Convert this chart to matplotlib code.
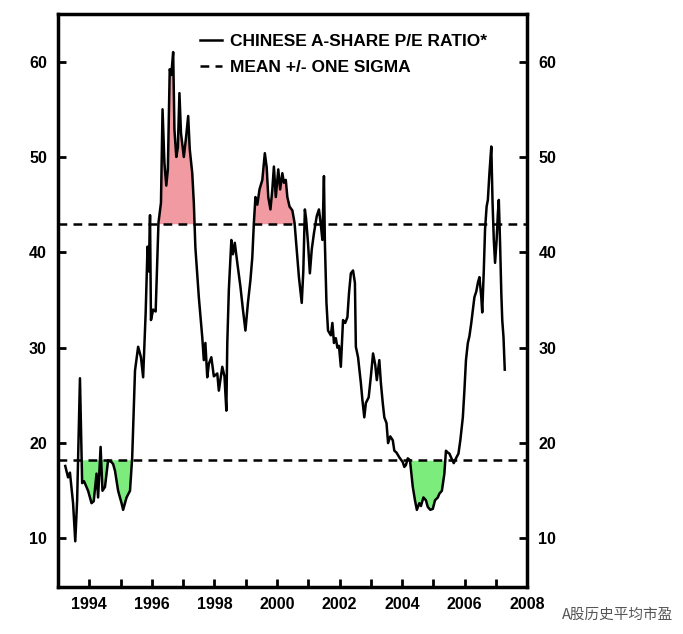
import matplotlib
matplotlib.use("Agg")
import matplotlib.pyplot as plt
import numpy as np

# values
years = [1993.23, 1993.32, 1993.38, 1993.48, 1993.55, 1993.61, 1993.70, 1993.77, 1993.83, 1993.96,
         1994.07, 1994.14, 1994.23, 1994.28, 1994.36, 1994.42, 1994.50, 1994.60, 1994.71, 1994.76,
         1994.82, 1994.92, 1995.03, 1995.08, 1995.19, 1995.30, 1995.37, 1995.46, 1995.56, 1995.65,
         1995.72, 1995.80, 1995.86, 1995.90, 1995.94, 1995.97, 1996.04, 1996.12, 1996.21, 1996.29,
         1996.34, 1996.40, 1996.46, 1996.51, 1996.57, 1996.62, 1996.68, 1996.72, 1996.78, 1996.83,
         1996.88, 1996.93, 1997.02, 1997.09, 1997.16, 1997.21, 1997.29, 1997.34, 1997.39, 1997.50,
         1997.61, 1997.66, 1997.71, 1997.77, 1997.82, 1997.90, 1997.98, 1998.09, 1998.14, 1998.25,
         1998.32, 1998.38, 1998.41, 1998.46, 1998.54, 1998.59, 1998.65, 1998.73, 1998.83, 1998.91,
         1998.99, 1999.07, 1999.15, 1999.21, 1999.26, 1999.31, 1999.37, 1999.44, 1999.53, 1999.61,
         1999.67, 1999.72, 1999.79, 1999.85, 1999.90, 1999.96, 2000.04, 2000.10, 2000.17, 2000.22,
         2000.28, 2000.33, 2000.40, 2000.49, 2000.56, 2000.63, 2000.70, 2000.79, 2000.84, 2000.89,
         2000.93, 2000.99, 2001.05, 2001.11, 2001.18, 2001.27, 2001.34, 2001.40, 2001.45, 2001.50,
         2001.53, 2001.58, 2001.63, 2001.72, 2001.77, 2001.82, 2001.88, 2001.93, 2001.98, 2002.04,
         2002.11, 2002.18, 2002.25, 2002.30, 2002.36, 2002.43, 2002.49, 2002.52, 2002.59, 2002.68,
         2002.73, 2002.79, 2002.84, 2002.93, 2003.00, 2003.07, 2003.14, 2003.19, 2003.27, 2003.32,
         2003.38, 2003.43, 2003.50, 2003.55, 2003.62, 2003.70, 2003.75, 2003.82, 2003.91, 2004.02,
         2004.07, 2004.12, 2004.18, 2004.25, 2004.34, 2004.41, 2004.47, 2004.55, 2004.60, 2004.68,
         2004.76, 2004.82, 2004.90, 2004.98, 2005.05, 2005.14, 2005.19, 2005.27, 2005.35, 2005.40,
         2005.46, 2005.51, 2005.59, 2005.65, 2005.72, 2005.80, 2005.86, 2005.94, 2005.99, 2006.04,
         2006.10, 2006.15, 2006.21, 2006.26, 2006.31, 2006.37, 2006.42, 2006.47, 2006.53, 2006.56,
         2006.61, 2006.65, 2006.70, 2006.74, 2006.79, 2006.85, 2006.89, 2006.93, 2006.97, 2007.02,
         2007.06, 2007.09, 2007.13, 2007.17, 2007.20, 2007.24, 2007.27, 2007.28]
pe = [17.6, 16.4, 16.9, 13.7, 9.7, 14.0, 26.8, 15.8, 16.0, 15.0,
      13.7, 13.9, 16.8, 14.3, 19.6, 15.0, 15.4, 18.2, 18.0, 17.8,
      17.1, 15.0, 13.7, 13.0, 14.3, 15.0, 18.5, 27.6, 30.1, 29.0,
      26.9, 33.6, 40.6, 38.0, 43.9, 32.9, 34.0, 33.8, 43.1, 45.2,
      55.0, 49.4, 47.0, 48.7, 59.2, 58.6, 61.0, 52.9, 50.0, 51.0,
      56.7, 52.5, 50.0, 52.0, 54.3, 50.8, 48.3, 45.2, 40.5, 35.3,
      31.1, 28.7, 30.5, 26.9, 28.3, 29.0, 27.0, 27.3, 25.5, 28.0,
      27.0, 23.4, 30.5, 36.1, 41.3, 39.8, 41.0, 38.9, 36.4, 34.0,
      31.8, 34.7, 37.1, 39.5, 43.1, 45.8, 45.0, 46.6, 47.6, 50.4,
      48.9, 45.8, 44.5, 46.6, 49.0, 45.8, 48.7, 46.6, 48.3, 47.3,
      47.6, 45.8, 44.8, 44.4, 43.1, 40.3, 37.4, 34.7, 38.0, 44.5,
      43.5, 41.0, 37.8, 40.3, 42.0, 43.8, 44.5, 42.9, 41.3, 48.0,
      41.0, 34.7, 31.8, 31.3, 32.6, 30.5, 31.0, 30.0, 30.2, 28.0,
      32.9, 32.6, 33.2, 35.7, 37.8, 38.1, 36.8, 30.1, 29.0, 26.3,
      24.5, 22.7, 24.2, 24.8, 27.0, 29.4, 28.2, 26.6, 28.7, 26.3,
      24.2, 22.7, 22.1, 20.0, 20.7, 20.3, 19.2, 19.0, 18.5, 18.0,
      17.5, 17.7, 18.4, 18.2, 15.4, 14.0, 13.0, 13.7, 13.4, 14.3,
      14.0, 13.3, 13.0, 13.1, 14.0, 14.3, 14.7, 15.0, 16.8, 19.2,
      19.0, 18.9, 18.3, 17.9, 18.4, 18.9, 20.3, 22.7, 25.5, 28.7,
      30.5, 31.2, 32.6, 34.0, 35.3, 35.9, 36.8, 37.4, 35.3, 33.7,
      38.1, 42.4, 44.8, 45.5, 48.3, 51.1, 45.2, 41.3, 38.9, 41.3,
      44.1, 45.5, 41.0, 35.7, 32.9, 31.1, 28.7, 27.7]

upper_band = 43.0
lower_band = 18.2
high_spans = [(1996.1, 1997.5), (1999.2, 2000.6)]
low_spans = [(1993.73, 1995.4), (2004.27, 2005.4)]
xtick_labels = ["1994", "1996", "1998", "2000", "2002", "2004", "2006", "2008"]
ytick_values = [10, 20, 30, 40, 50, 60]

plt.rcParams['font.family'] = ['Liberation Sans', 'DejaVu Sans']
plt.rcParams['font.weight'] = 'bold'

fig = plt.figure(figsize=(6.83, 6.34), dpi=100)
ax = fig.add_axes([0.085, 0.074, 0.687, 0.904])

x = np.array(years)
y = np.array(pe)

# shaded zones above / below the one sigma bands
for a, b in high_spans:
    inside = (x >= a) & (x <= b)
    ax.fill_between(x, upper_band, y, where=inside & (y >= upper_band),
                    interpolate=True, color='#f29aa2', linewidth=0)
for a, b in low_spans:
    inside = (x >= a) & (x <= b)
    ax.fill_between(x, lower_band, y, where=inside & (y <= lower_band),
                    interpolate=True, color='#7ced7c', linewidth=0)

ax.plot(x, y, color='black', linewidth=1.8, label='CHINESE A-SHARE P/E RATIO*')
ax.axhline(upper_band, color='black', linestyle=(0, (3.5, 2.5)), linewidth=1.8,
           label='MEAN +/- ONE SIGMA')
ax.axhline(lower_band, color='black', linestyle=(0, (3.5, 2.5)), linewidth=1.8)

ax.set_xlim(1993, 2008)
ax.set_ylim(4.9, 65)

ax.set_xticks(range(1994, 2009, 2))
ax.set_xticklabels(xtick_labels)
ax.set_xticks(range(1995, 2008, 2), minor=True)
ax.set_yticks(ytick_values)

ax.tick_params(axis='both', which='both', direction='in', width=2, length=6,
               labelsize=11.5)
ax.tick_params(axis='y', right=True, labelright=True, pad=8)
ax.tick_params(axis='x', pad=7)
for s in ax.spines.values():
    s.set_linewidth(2.5)

ax.legend(loc='upper left', bbox_to_anchor=(0.303, 0.966), frameon=False,
          fontsize=12.5, handlelength=1.25, handletextpad=0.45, borderpad=0,
          borderaxespad=0, labelspacing=0.65)

fig.text(0.985, 0.03, "A股历史平均市盈", ha='right', va='center', fontsize=10.5,
         color='#555555', fontweight='normal',
         family=['Noto Sans CJK SC', 'DejaVu Sans'])

fig.savefig("out.png", dpi=100, facecolor='white')
